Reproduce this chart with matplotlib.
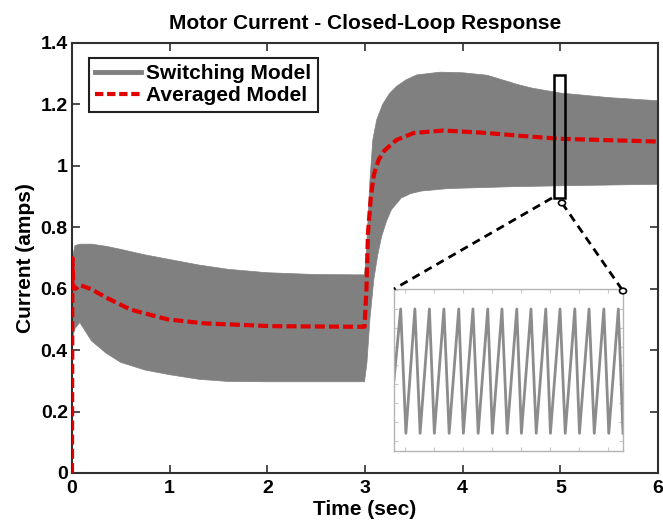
import matplotlib
matplotlib.use('Agg')
import matplotlib.pyplot as plt
from matplotlib.lines import Line2D
from matplotlib.patches import Rectangle, Circle
from matplotlib.ticker import MultipleLocator
import numpy as np

plt.rcParams['font.family'] = ['Liberation Sans', 'DejaVu Sans']
plt.rcParams['font.weight'] = 'bold'

# switching model envelope (upper / lower edge of the ripple band)
t_upper = [0, 0.005, 0.03, 0.08, 0.2, 0.35, 0.5, 0.75, 1.0, 1.3, 1.6, 2.0, 2.5, 2.995,
           3.01, 3.03, 3.05, 3.08, 3.12, 3.18, 3.25, 3.32, 3.42, 3.53, 3.77, 4.0, 4.25,
           4.56, 4.71, 5.0, 5.5, 5.84, 6.0]
i_upper = [0, 0.70, 0.74, 0.745, 0.745, 0.738, 0.728, 0.71, 0.695, 0.677, 0.663, 0.652, 0.646, 0.645,
           0.70, 0.82, 0.95, 1.085, 1.15, 1.20, 1.235, 1.258, 1.28, 1.296, 1.305, 1.303, 1.295,
           1.265, 1.253, 1.237, 1.222, 1.215, 1.212]
t_lower = [0, 0.005, 0.03, 0.08, 0.2, 0.35, 0.5, 0.75, 1.0, 1.3, 1.6, 2.0, 2.5, 2.995,
           3.02, 3.05, 3.09, 3.13, 3.17, 3.22, 3.27, 3.37, 3.47, 3.58, 3.85, 4.5, 5.0, 6.0]
i_lower = [0, 0.44, 0.47, 0.49, 0.43, 0.39, 0.36, 0.335, 0.32, 0.305, 0.298, 0.297, 0.297, 0.297,
           0.36, 0.50, 0.63, 0.71, 0.77, 0.82, 0.857, 0.895, 0.91, 0.918, 0.926, 0.932, 0.935, 0.94]

# averaged model
t_avg = [0, 0.004, 0.015, 0.04, 0.08, 0.2, 0.35, 0.6, 0.98, 1.36, 2.05, 2.9, 2.995,
         3.015, 3.03, 3.06, 3.09, 3.14, 3.2, 3.32, 3.5, 3.8, 4.2, 4.7, 5.0, 6.0]
i_avg = [0, 0.70, 0.60, 0.60, 0.612, 0.598, 0.571, 0.532, 0.50, 0.487, 0.478, 0.476, 0.476,
         0.60, 0.78, 0.90, 0.97, 1.02, 1.05, 1.084, 1.107, 1.115, 1.108, 1.095, 1.088, 1.079]

# zoomed ripple near t = 5 s (time in microseconds)
t_zoom = [62, 85, 103, 134, 152, 184, 201, 234, 252, 285, 301, 334, 352, 385, 401, 434, 452,
          485, 501, 534, 552, 585, 601, 634, 652, 685, 701, 734, 752, 785, 802, 835, 851]
i_zoom = [1.062, 1.25, 0.92, 1.25, 0.92, 1.25, 0.92, 1.25, 0.92, 1.25, 0.92, 1.25, 0.92, 1.25, 0.92,
          1.25, 0.92, 1.25, 0.92, 1.25, 0.92, 1.25, 0.92, 1.25, 0.92, 1.25, 0.92, 1.25, 0.92,
          1.25, 0.92, 1.25, 0.92]

gray = '#808080'
red = '#e00000'
edge = '#303030'

fig = plt.figure(figsize=(6.63, 5.26), dpi=100)
ax = fig.add_axes([0.1086, 0.1008, 0.8839, 0.8175])

band_t = np.r_[t_upper, t_lower[::-1]]
band_i = np.r_[i_upper, i_lower[::-1]]
ax.fill(band_t, band_i, color=gray, lw=0.5, zorder=2)
ax.plot(t_avg, i_avg, color=red, lw=3, ls=(0, (2.4, 1.0)), zorder=3)

ax.set_xlim(0, 6)
ax.set_ylim(0, 1.4)
ax.set_xticks(range(0, 7))
ax.set_yticks([0, 0.2, 0.4, 0.6, 0.8, 1, 1.2, 1.4])
ax.set_yticklabels(['0', '0.2', '0.4', '0.6', '0.8', '1', '1.2', '1.4'])
ax.tick_params(direction='in', length=6, width=1.2, top=True, right=True,
               labelsize=14, color=edge, pad=3)
ax.tick_params(axis='x', pad=5)
for s in ax.spines.values():
    s.set_linewidth(1.5)
    s.set_color(edge)

ax.set_title('Motor Current - Closed-Loop Response', fontsize=15, fontweight='bold', pad=10)
ax.set_xlabel('Time (sec)', fontsize=15, fontweight='bold', labelpad=2)
ax.set_ylabel('Current (amps)', fontsize=15, fontweight='bold', labelpad=4)

handles = [Line2D([], [], color=gray, lw=3.5),
           Line2D([], [], color=red, lw=3, ls=(0, (2.0, 0.9)))]
leg = ax.legend(handles, ['Switching Model', 'Averaged Model'], loc='upper left',
                bbox_to_anchor=(0.029, 0.965), borderaxespad=0, fancybox=False,
                framealpha=1, edgecolor='#202020', fontsize=15, handlelength=2.2,
                handletextpad=0.25, borderpad=0.3, labelspacing=0.15)
leg.get_frame().set_linewidth(1.5)
for txt in leg.get_texts():
    txt.set_fontweight('bold')

# zoom box on the main axes
ax.add_patch(Rectangle((4.933, 0.895), 0.116, 0.401, fill=False, ec='black', lw=1.8, zorder=5))

# inset with ripple detail
ins = fig.add_axes([394 / 663, 1 - 451 / 526, 229 / 663, 162 / 526])
ins.plot(t_zoom, i_zoom, color='#8c8c8c', lw=2)
ins.set_xlim(62, 851)
ins.set_ylim(0.873, 1.303)
ins.xaxis.set_major_locator(MultipleLocator(100))
ins.yaxis.set_major_locator(MultipleLocator(0.05))
ins.tick_params(direction='in', length=3, width=0.8, color='#c8c8c8', top=True, right=True,
                labelbottom=False, labelleft=False)
for s in ins.spines.values():
    s.set_linewidth(1.0)
    s.set_color('#b4b4b4')

# connector lines (figure pixel coordinates -> fraction)
def fp(x, y):
    return (x / 663, 1 - y / 526)

for p0, p1 in [((552, 198), (394, 289)), ((562, 203), (623, 291))]:
    a, b = fp(*p0), fp(*p1)
    fig.add_artist(Line2D([a[0], b[0]], [a[1], b[1]], transform=fig.transFigure,
                          color='black', lw=2, ls=(0, (3, 2)), zorder=10))
for c in [(562, 203), (623, 291)]:
    fig.add_artist(Circle(fp(*c), 3.5 / 663, transform=fig.transFigure, fc='white',
                          ec='black', lw=1.2, zorder=11))

fig.savefig('out.png', dpi=100)
